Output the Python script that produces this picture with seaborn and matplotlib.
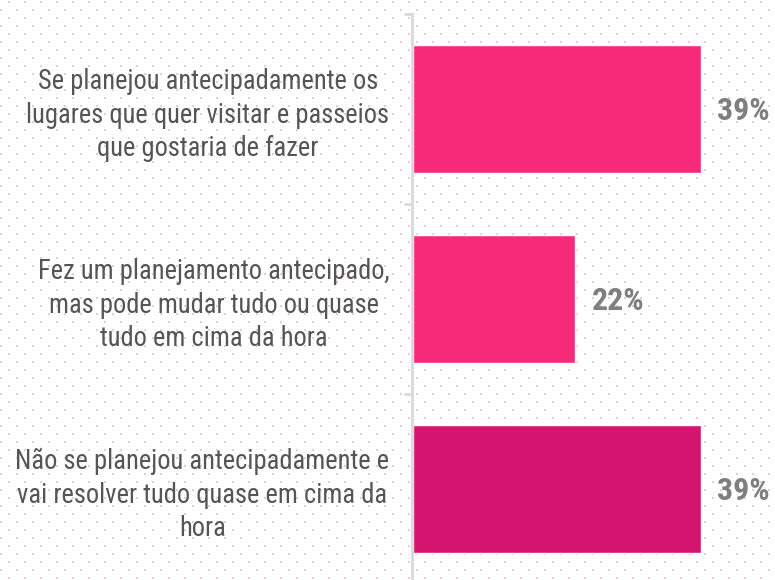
import numpy as np
import pandas as pd
from matplotlib import pyplot as plt
from matplotlib import font_manager
from matplotlib.ticker import FixedLocator
import seaborn as sns

# chart data
categories = [
    'Se planejou antecipadamente os\nlugares que quer visitar e passeios\nque gostaria de fazer',
    'Fez um planejamento antecipado,\nmas pode mudar tudo ou quase\ntudo em cima da hora',
    'Não se planejou antecipadamente e\nvai resolver tudo quase em cima da\nhora',
]
values = [39, 22, 39]
labels = ['39%', '22%', '39%']
colors = ['#f72a7a', '#f72a7a', '#d4156f']

df = pd.DataFrame({'cat': categories, 'val': values})

sns.set_style('white')
names = {f.name for f in font_manager.fontManager.ttflist}
condensed = 'Roboto Condensed' in names
family = 'Roboto Condensed' if condensed else 'Roboto'
plt.rcParams['font.family'] = [family, 'DejaVu Sans']
cat_size = 19.1 if condensed else 16.3

fig = plt.figure(figsize=(7.75, 5.8), dpi=100)

# dotted background
bg = fig.add_axes([0, 0, 1, 1], zorder=0)
bg.set_xlim(0, 775)
bg.set_ylim(580, 0)
bg.axis('off')
pts = []
for k, y in enumerate(np.arange(2, 582, 8)):
    x0 = 9 if k % 2 == 0 else 1
    for x in np.arange(x0, 776, 16):
        pts.append((x, y))
pts = np.array(pts)
bg.scatter(pts[:, 0], pts[:, 1], s=3.2, marker='s', color='#f4c6dc', linewidths=0)

# main axes
ax = fig.add_axes([413 / 775, 0, 362 / 775, 566 / 580], zorder=1)
ax.patch.set_alpha(0)
sns.barplot(data=df, x='val', y='cat', hue='cat', palette=colors, legend=False,
            width=0.674, saturation=1, ax=ax)
ax.set_xlim(0, 362 / 7.38)
ax.set_ylim(-0.5 + 566 / 190, -0.5)

for sp in ['top', 'right', 'bottom']:
    ax.spines[sp].set_visible(False)
ax.spines['left'].set_color('#d9d9d9')
ax.spines['left'].set_linewidth(2)
ax.spines['left'].set_position(('outward', 1))

ax.set_xticks([])
ax.set_xlabel('')
ax.set_ylabel('')
ax.tick_params(axis='y', which='major', length=0, pad=16)
ax.yaxis.set_minor_locator(FixedLocator([-0.5, 0.5, 1.5]))
ax.tick_params(axis='y', which='minor', length=6, width=2, color='#d9d9d9', left=True)
ax.set_yticks(range(len(categories)))
ax.set_yticklabels(categories, fontsize=cat_size, color='#555555',
                   multialignment='center', linespacing=1.3)

# value labels
for i, (v, lab) in enumerate(zip(values, labels)):
    ax.annotate(lab, (v, i), xytext=(12, -8), textcoords='offset points',
                va='baseline', ha='left', fontsize=23, fontweight='bold', color='#7f7f7f')

fig.savefig('out.png', dpi=100)
